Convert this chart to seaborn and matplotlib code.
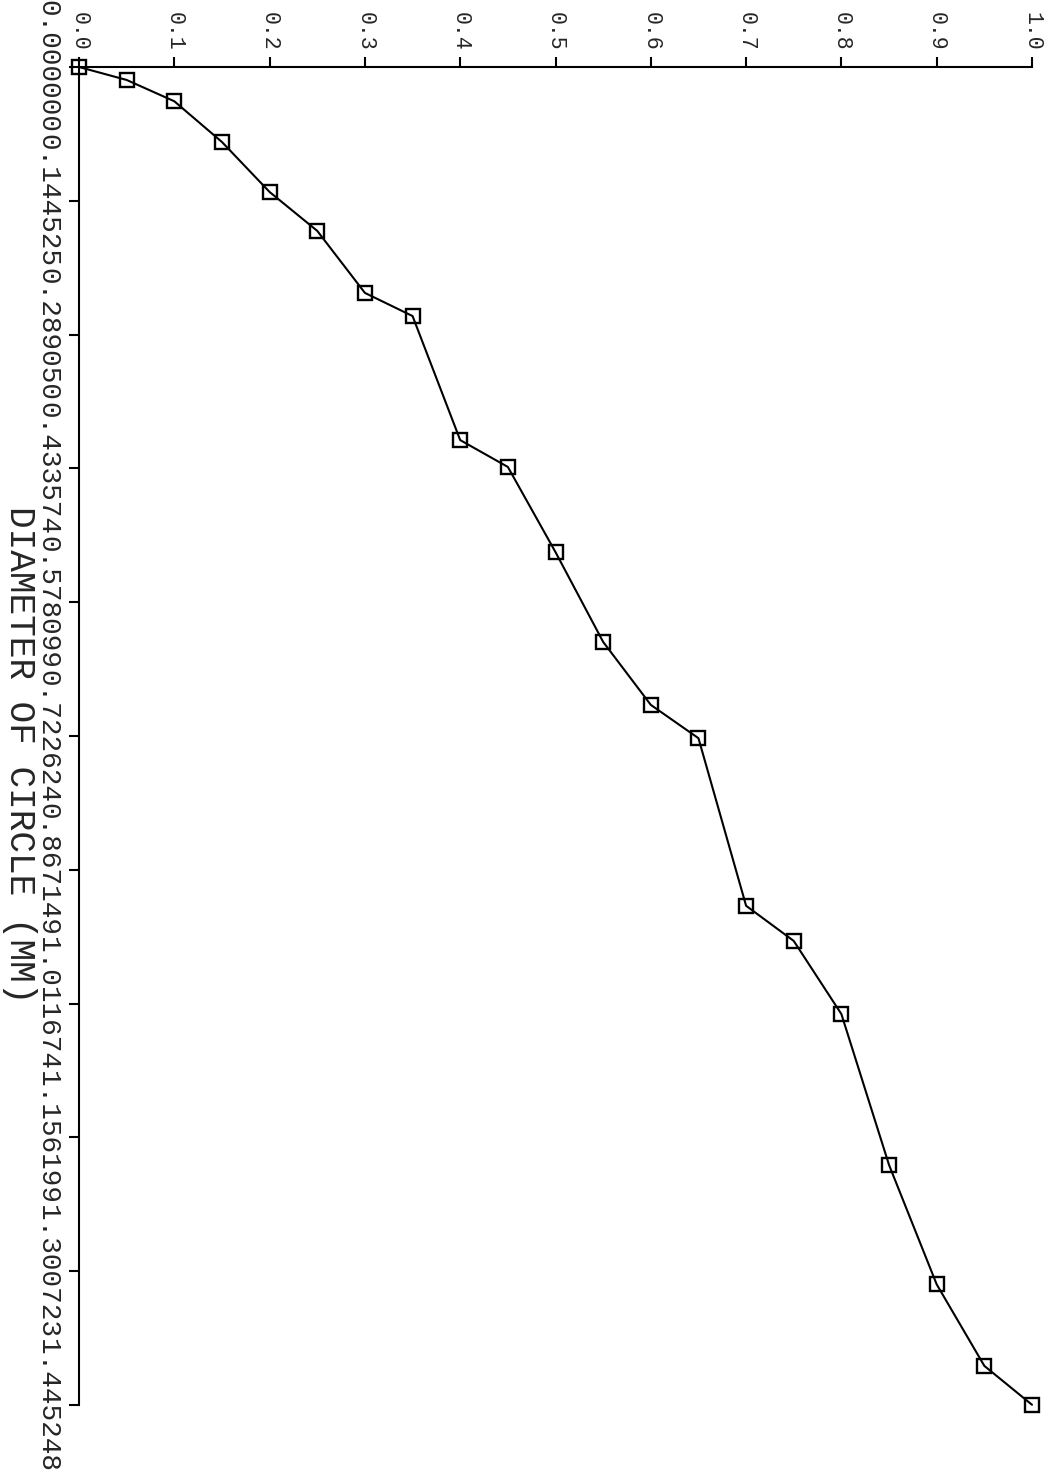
import matplotlib
matplotlib.use("Agg")
import matplotlib.pyplot as plt
import seaborn as sns
import pandas as pd

# Data read from the (rotated) chart
fraction = [0.00, 0.05, 0.10, 0.15, 0.20, 0.25, 0.30, 0.35, 0.40, 0.45, 0.50,
            0.55, 0.60, 0.65, 0.70, 0.75, 0.80, 0.85, 0.90, 0.95, 1.00]
diameter = [0.000, 0.014, 0.037, 0.081, 0.135, 0.177, 0.244, 0.269, 0.403, 0.432, 0.524,
            0.621, 0.689, 0.725, 0.906, 0.944, 1.023, 1.186, 1.315, 1.403, 1.445]
diam_ticks = [0.000000, 0.144525, 0.289050, 0.433574, 0.578099, 0.722624,
              0.867149, 1.011674, 1.156199, 1.300723, 1.445248]
diam_tick_labels = ["0.000000", "0.144525", "0.289050", "0.433574", "0.578099", "0.722624",
                    "0.867149", "1.011674", "1.156199", "1.300723", "1.445248"]
frac_ticks = [0.0, 0.1, 0.2, 0.3, 0.4, 0.5, 0.6, 0.7, 0.8, 0.9, 1.0]
frac_tick_labels = ["0.0", "0.1", "0.2", "0.3", "0.4", "0.5", "0.6", "0.7", "0.8", "0.9", "1.0"]
axis_label = "DIAMETER OF CIRCLE (MM)"

sns.set_style("ticks")
plt.rcParams["font.family"] = ["Liberation Mono", "DejaVu Sans Mono"]

W, H = 1052, 1472
fig = plt.figure(figsize=(W / 100, H / 100), dpi=100)
ax = fig.add_axes([79 / W, 1 - 1405 / H, (1032 - 79) / W, (1405 - 67) / H])

df = pd.DataFrame({"fraction": fraction, "diameter": diameter})
sns.lineplot(data=df, x="fraction", y="diameter", sort=False, ax=ax,
             color="black", linewidth=1.5, marker="s", markersize=9.5,
             markerfacecolor="none", markeredgecolor="black", markeredgewidth=1.7,
             clip_on=False)

ax.set_xlim(0, 1)
ax.set_ylim(1.445248, 0)

for s in ["right", "bottom"]:
    ax.spines[s].set_visible(False)
for s in ["top", "left"]:
    ax.spines[s].set_linewidth(1.5)
    ax.spines[s].set_color("black")

ax.xaxis.tick_top()
ax.set_xticks(frac_ticks)
ax.set_xticklabels(frac_tick_labels, rotation=270, fontsize=15.5, va="bottom", ha="center")
ax.set_yticks(diam_ticks)
ax.set_yticklabels(diam_tick_labels, rotation=270, fontsize=20, va="center", ha="right")
ax.tick_params(axis="both", direction="out", length=7.5, width=1.5, color="black")
ax.tick_params(axis="x", pad=4)
ax.tick_params(axis="y", pad=6)

ax.set_xlabel("")
ax.set_ylabel("")
fig.text(2 / W, 1 - 755 / H, axis_label, rotation=270, fontsize=26,
         ha="left", va="center", family=["Liberation Mono", "DejaVu Sans Mono"])

fig.savefig("out.png", dpi=100, facecolor="white")
